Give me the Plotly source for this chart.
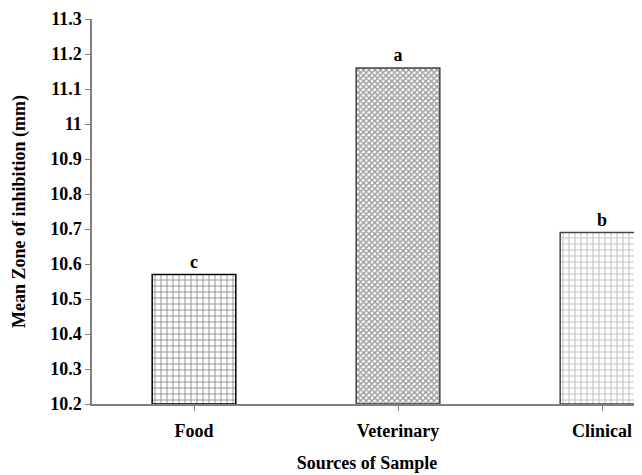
import plotly.graph_objects as go

categories = ["Food", "Veterinary", "Clinical"]
values = [10.57, 11.16, 10.69]
letters = ["c", "a", "b"]
y_ticks = [10.2, 10.3, 10.4, 10.5, 10.6, 10.7, 10.8, 10.9, 11.0, 11.1, 11.2, 11.3]
y_tick_labels = ["10.2", "10.3", "10.4", "10.5", "10.6", "10.7", "10.8", "10.9", "11", "11.1", "11.2", "11.3"]
base_value = 10.2

shapes = ["+", "x", "+"]
fgcolors = ["#000000", "#333333", "#8c8c8c"]
sizes = [6, 4, 6]
solidity = [0.25, 0.6, 0.35]

FONT = "Liberation Serif, Times New Roman, serif"
FS = 18

fig = go.Figure()
fig.add_trace(go.Bar(
    x=[0, 1, 2],
    y=[v - base_value for v in values],
    base=base_value,
    width=0.41,
    text=letters,
    textposition="outside",
    textfont=dict(family=FONT, size=FS, color="black", weight="bold"),
    cliponaxis=False,
    marker=dict(
        color="white",
        line=dict(color=["#000000", "#444444", "#444444"], width=1.5),
        pattern=dict(shape=shapes, fgcolor=fgcolors, bgcolor="white",
                     size=sizes, solidity=solidity, fillmode="overlay"),
    ),
))

fig.update_layout(
    width=634, height=467,
    margin=dict(l=84, r=0, t=11, b=71, autoexpand=False),
    paper_bgcolor="white", plot_bgcolor="white",
    showlegend=False,
    font=dict(family=FONT, color="black"),
    xaxis=dict(
        tickmode="array", tickvals=[0, 1, 2], ticktext=categories,
        range=[-0.5, 2.196], tickson="boundaries",
        ticks="outside", ticklen=5, tickcolor="#808080",
        showline=True, linecolor="#808080", linewidth=1.5,
        showgrid=False, zeroline=False, automargin=False,
        ticklabelstandoff=5,
        tickfont=dict(family=FONT, size=FS, weight="bold", color="black"),
        title=dict(text="Sources of Sample", standoff=16,
                   font=dict(family=FONT, size=FS, weight="bold", color="black")),
    ),
    yaxis=dict(
        range=[10.2, 11.3],
        tickmode="array", tickvals=y_ticks, ticktext=y_tick_labels,
        ticks="outside", ticklen=5, tickcolor="#808080",
        showline=True, linecolor="#808080", linewidth=1.5,
        showgrid=False, zeroline=False, automargin=False,
        tickfont=dict(family=FONT, size=FS, weight="bold", color="black"),
        title=dict(text="Mean Zone of inhibition (mm)", standoff=20,
                   font=dict(family=FONT, size=FS, weight="bold", color="black")),
    ),
)

fig.write_html("out.html")
